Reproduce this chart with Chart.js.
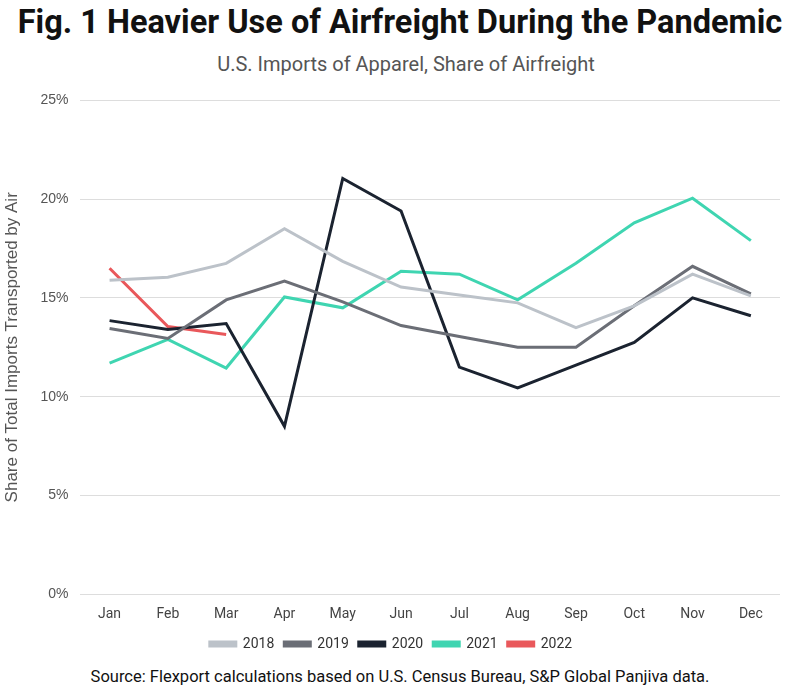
<!DOCTYPE html>
<html>
<head>
<meta charset="utf-8">
<script src="https://cdn.jsdelivr.net/npm/chart.js@4.4.1/dist/chart.umd.min.js"></script>
<style>
  html, body { margin: 0; padding: 0; background: #fff; }
  body { width: 800px; height: 694px; position: relative; overflow: hidden; font-family: Roboto, "Noto Sans", sans-serif; }
  .title { position: absolute; top: 3px; left: 0; width: 800px; text-align: center; font-size: 32.5px; font-weight: 700; color: #111; }
  .subtitle { position: absolute; top: 52px; left: 6px; width: 800px; text-align: center; font-size: 20px; color: #555; }
  .source { position: absolute; top: 667px; left: 0; width: 800px; text-align: center; font-size: 16.5px; color: #111; }
  #wrap { position: absolute; left: 0; top: 80px; width: 800px; height: 581px; }
</style>
</head>
<body>
<div class="title">Fig. 1 Heavier Use of Airfreight During the Pandemic</div>
<div class="subtitle">U.S. Imports of Apparel, Share of Airfreight</div>
<div id="wrap"><canvas id="myChart"></canvas></div>
<div class="source">Source: Flexport calculations based on U.S. Census Bureau, S&amp;P Global Panjiva data.</div>
<script>
const months = ["Jan", "Feb", "Mar", "Apr", "May", "Jun", "Jul", "Aug", "Sep", "Oct", "Nov", "Dec"];
const years = ["2018", "2019", "2020", "2021", "2022"];
const data2018 = [15.9, 16.05, 16.75, 18.5, 16.85, 15.55, 15.15, 14.75, 13.5, 14.6, 16.2, 15.1];
const data2019 = [13.45, 12.95, 14.9, 15.85, 14.8, 13.6, 13.05, 12.5, 12.5, 14.6, 16.6, 15.2];
const data2020 = [13.85, 13.4, 13.7, 8.5, 21.05, 19.4, 11.5, 10.45, 11.6, 12.75, 15.0, 14.1];
const data2021 = [11.7, 12.9, 11.45, 15.05, 14.5, 16.35, 16.2, 14.9, 16.75, 18.8, 20.05, 17.9];
const data2022 = [16.5, 13.55, 13.15];
const colors = ["#bcc2c9", "#6b6e76", "#1b2330", "#3fd5b1", "#e9585b"];
const seriesData = [data2018, data2019, data2020, data2021, data2022];

const ctx = document.getElementById("myChart").getContext("2d");
const myChart = new Chart(ctx, {
  type: "line",
  data: {
    labels: months,
    datasets: years.map((y, i) => ({
      label: y,
      data: seriesData[i],
      borderColor: colors[i],
      backgroundColor: colors[i],
      borderWidth: 3,
      fill: false,
      tension: 0,
      pointRadius: 0,
    })),
  },
  options: {
    responsive: true,
    maintainAspectRatio: false,
    animation: false,
    layout: { padding: { top: 10, right: 20, left: 2, bottom: 0 } },
    plugins: {
      legend: {
        position: "bottom",
        labels: {
          boxWidth: 26,
          boxHeight: 4,
          color: "#333",
          font: { family: "Roboto", size: 14 },
          padding: 10,
        },
      },
      tooltip: { enabled: false },
    },
    scales: {
      x: {
        offset: true,
        grid: { display: false },
        border: { display: false },
        ticks: { color: "#444", font: { family: "Roboto", size: 14 }, padding: 4 },
      },
      y: {
        min: 0,
        max: 25,
        ticks: {
          stepSize: 5,
          color: "#555",
          padding: 12,
          font: { family: "Liberation Sans", size: 14 },
          callback: (v) => v + "%",
        },
        grid: { color: "#dddddd", drawTicks: false },
        border: { display: false },
        title: {
          display: true,
          text: "Share of Total Imports Transported by Air",
          color: "#555",
          font: { family: "Liberation Sans", size: 17 },
          padding: { top: 0, bottom: 6 },
        },
      },
    },
  },
});
</script>
</body>
</html>
